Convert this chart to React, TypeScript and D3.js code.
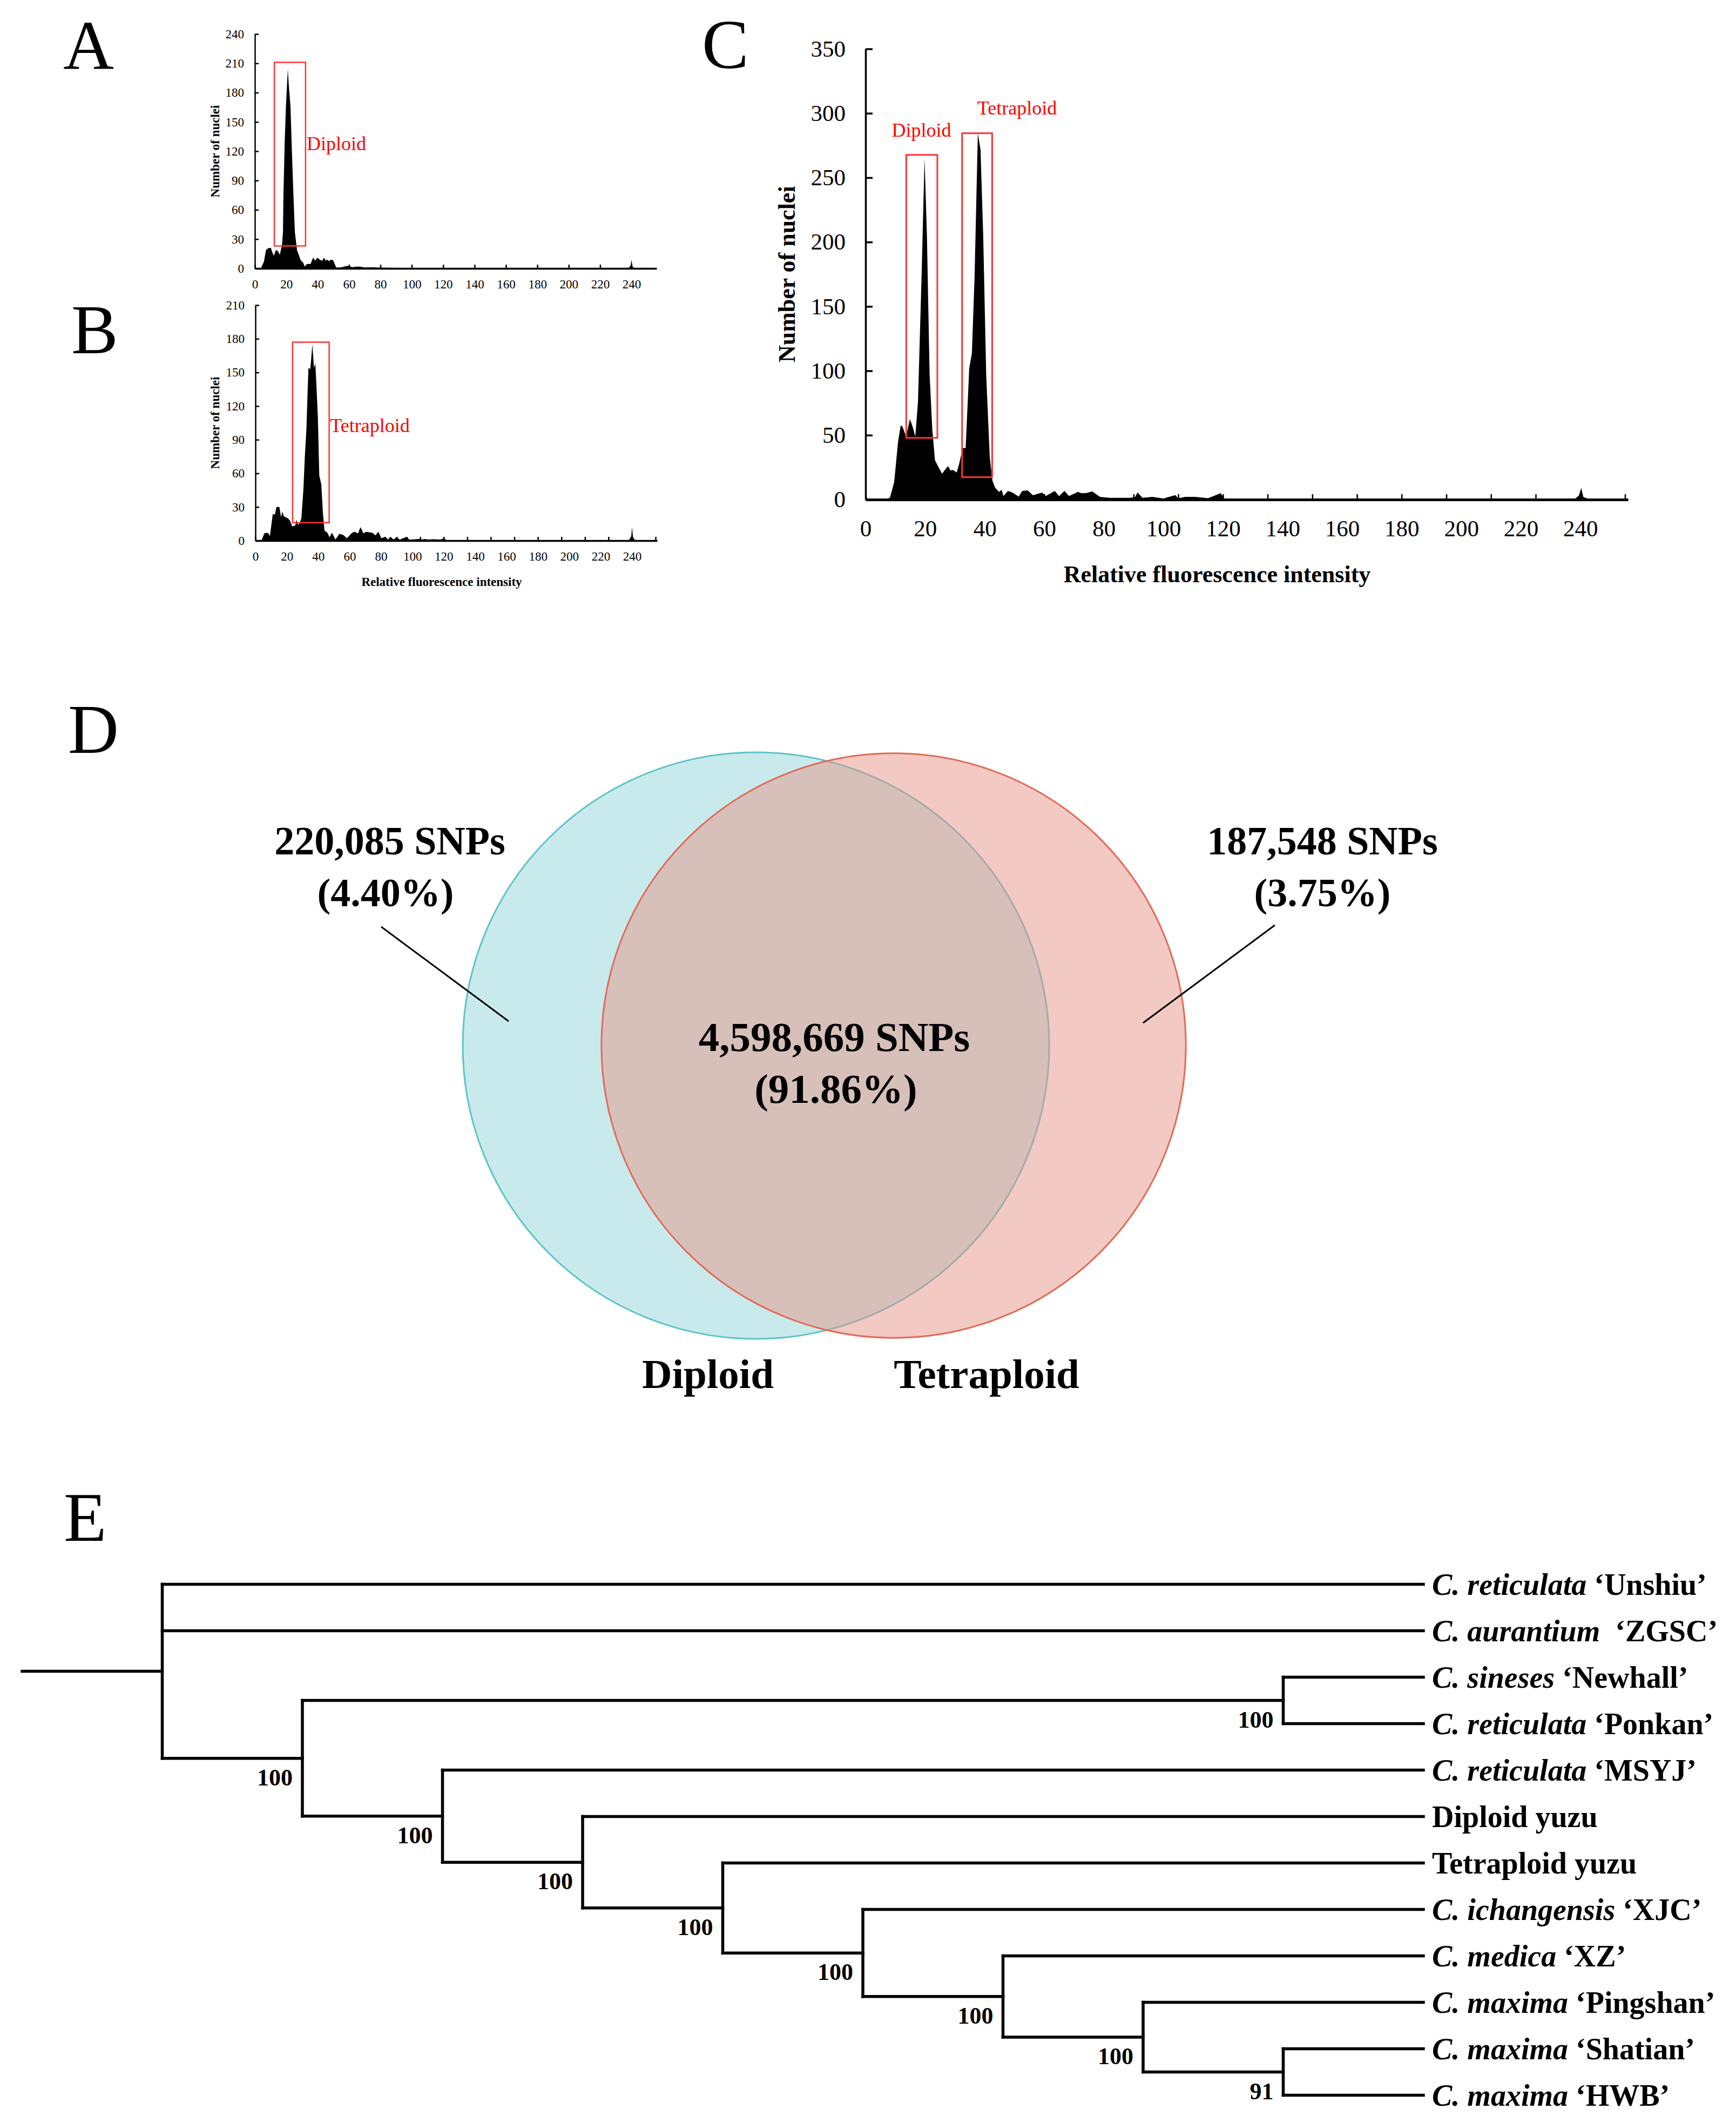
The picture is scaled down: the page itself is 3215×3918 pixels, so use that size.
import React, { useEffect, useRef } from "react";
import * as d3 from "d3";

// flow cytometry histograms: [relative fluorescence intensity, number of nuclei]
const histDiploid: [number, number][] = [
  [0, 0], [3.8, 0], [5.8, 7], [7.1, 19], [8, 20], [9, 21], [10.2, 21], [11, 17], [12.1, 13], [13.4, 19],
  [14.8, 17.5], [15.9, 14], [17.3, 24], [17.9, 37], [18.2, 74], [19, 129], [19.8, 166], [20.4, 185], [21, 204],
  [21.6, 188], [22.7, 166], [23.6, 120], [24.6, 74], [25.5, 37], [26.9, 18.5], [27.5, 16], [28.2, 13],
  [29, 9], [29.8, 7.4], [30.8, 6], [31.7, 2], [33.2, 4.6], [35.5, 4.6], [37.1, 11], [38.4, 8], [39.9, 11],
  [41.3, 9], [42.8, 7.8], [44.2, 11], [45, 8], [46.1, 9], [47.4, 7.4], [48.5, 9], [49.9, 8.3], [51.8, 1],
  [54.7, 1], [57, 2], [59.5, 2.8], [62, 1.3], [64.5, 1.8], [67, 1.8], [70, 1], [74, 1.3], [80, 0.8],
  [90, 0.5], [100, 0.4], [120, 0.3], [150, 0.2], [200, 0.2], [238, 0.2], [239.5, 3], [240, 9], [240.6, 2],
  [242, 0.2], [256, 0],
];

const histTetraploid: [number, number][] = [
  [0, 0], [3.8, 0], [5, 4], [5.7, 6.5], [7.6, 7], [8.5, 6], [9.2, 4], [10, 12], [11.1, 24], [12.4, 23],
  [13.4, 30], [15.3, 30], [16.3, 21], [17.2, 26], [18, 22], [19.1, 21], [20.6, 20], [22, 18], [23.5, 12.7],
  [25.4, 13.5], [26.2, 18.5], [27.3, 14], [28.3, 16], [29.3, 20], [30.6, 46], [31.5, 75], [32.5, 99],
  [33.2, 130], [33.8, 154], [35, 153], [36.3, 175], [37.3, 154], [38.2, 158], [39, 135], [39.8, 110],
  [40.7, 58], [42, 50], [43, 25], [44, 9], [45.9, 7], [47.2, 3], [48.8, 7], [51, 1], [53.5, 6], [56, 5],
  [58.3, 2], [61.2, 6.5], [63, 8], [65.4, 6.5], [67, 12], [68.8, 6.5], [70.7, 8], [72.3, 7.5], [74.6, 7],
  [76.5, 4.7], [78.4, 8], [80.3, 2], [82.8, 3.5], [84.5, 1], [86, 3.5], [88, 1], [89.9, 3], [92, 1],
  [96.6, 3.5], [98, 0.8], [104, 1.5], [106, 1], [108, 1.5], [110, 1], [113, 1.2], [118, 1], [120, 2],
  [122, 0.5], [150, 0.3], [238, 0.3], [239.5, 4], [240, 12], [240.6, 3], [242, 0.3], [256, 0],
];

const histMixed: [number, number][] = [
  [0, 6], [0.6, 0], [7, 0], [8.2, 1.7], [9.6, 13.4], [10.9, 44.7], [11.8, 57.6], [12.4, 56.6], [13.6, 49],
  [14.9, 62.5], [15.8, 56.6], [16.7, 49], [17.6, 76], [18.8, 173], [19.8, 265], [20.6, 205], [21.5, 97],
  [22.4, 54.5], [23.3, 30.6], [24.2, 26.4], [25.7, 20], [26.6, 23], [27.7, 26], [28.5, 22.6], [29.4, 23],
  [30.6, 21], [31.5, 28.5], [32.6, 40], [33.6, 40], [34.8, 101.7], [35.7, 113.7], [36.6, 173], [37.7, 284.5],
  [38.6, 271.6], [39.5, 205], [40.5, 97], [41.7, 32.7], [42.6, 14.7], [43.5, 9.2], [44.8, 6], [45.7, 7.6],
  [46.3, 2.7], [47.8, 6.7], [49.3, 5.5], [51.4, 2.3], [52.6, 6.7], [54.4, 7.1], [56.2, 3.4], [59.3, 5.5],
  [60.5, 2.7], [63.5, 6.7], [65, 2.7], [66.8, 6.7], [68.3, 2.7], [71.3, 6], [72.5, 4.9], [74, 5], [76.1, 6.3],
  [78.7, 2.1], [82, 1.4], [88.8, 1.4], [90.5, 2], [91.3, 5.6], [93, 1.4], [96.3, 2.1], [100, 0.8], [104, 3.5],
  [105, 1], [107.3, 2.1], [110.7, 2.1], [115, 1], [119.2, 4.9], [120.5, 0.8], [130, 0.3], [238, 0.3],
  [239.5, 3], [240.3, 9], [241, 2], [243, 0.3], [256, 0],
];

const xTickLabels = [0, 20, 40, 60, 80, 100, 120, 140, 160, 180, 200, 220, 240];
const innerTicks20 = [0, 20, 40, 60, 80, 100, 120, 140, 160, 180, 200, 220, 240];
const innerTicks15 = [0, 15, 30, 45, 60, 75, 90, 105, 120, 135, 150, 165, 180, 195, 210, 225, 240, 255];
const yTicksA = [0, 30, 60, 90, 120, 150, 180, 210, 240];
const yTicksB = [0, 30, 60, 90, 120, 150, 180, 210];
const yTicksC = [0, 50, 100, 150, 200, 250, 300, 350];

// red gates around the G1 peaks: x range, y range, label anchor (data units)
const gatesA = [{ label: "Diploid", x0: 12.4, x1: 32.3, y0: 23, y1: 211, tx: 33, ty: 121 }];
const gatesB = [{ label: "Tetraploid", x0: 23.7, x1: 47, y0: 16, y1: 177, tx: 47.6, ty: 96.8 }];
const gatesC = [
  { label: "Diploid", x0: 13.65, x1: 24.1, y0: 47.9, y1: 267.7, tx: 8.8, ty: 282 },
  { label: "Tetraploid", x0: 32.4, x1: 42.5, y0: 17.4, y1: 284.5, tx: 37.5, ty: 299 },
];

// Venn
const vennSets = ["Diploid", "Tetraploid"];
const vennOnly = ["220,085 SNPs", "187,548 SNPs"];
const vennOnlyPct = ["(4.40%)", "(3.75%)"];
const vennTotals = [220085 + 4598669, 187548 + 4598669];
const vennShared = ["4,598,669 SNPs", "(91.86%)"];

// tree
const treeNewick =
  "(Unshiu,ZGSC,((Newhall,Ponkan)100,(MSYJ,(Diploid,(Tetraploid,(XJC,(XZ,(Pingshan,(Shatian,HWB)91)100)100)100)100)100)100)100)";
const leafIds = ["Unshiu", "ZGSC", "Newhall", "Ponkan", "MSYJ", "Diploid", "Tetraploid", "XJC", "XZ", "Pingshan", "Shatian", "HWB"];
const leafSpecies = ["reticulata", "aurantium", "sineses", "reticulata", "reticulata", "", "", "ichangensis", "medica", "maxima", "maxima", "maxima"];
const leafCultivar = ["‘Unshiu’", " ‘ZGSC’", "‘Newhall’", "‘Ponkan’", "‘MSYJ’", "", "", "‘XJC’", "‘XZ’", "‘Pingshan’", "‘Shatian’", "‘HWB’"];
const leafPlain = ["", "", "", "", "", "Diploid yuzu", "Tetraploid yuzu", "", "", "", "", ""];

const SERIF = "'Liberation Serif', 'Times New Roman', serif";

type TNode = { name: string; support?: string; children?: TNode[] };

function parseNewick(s: string): TNode {
  let i = 0;
  function node(): TNode {
    const n: TNode = { name: "" };
    if (s[i] === "(") {
      n.children = [];
      i++;
      n.children.push(node());
      while (s[i] === ",") {
        i++;
        n.children.push(node());
      }
      i++; // closing paren
    }
    let lab = "";
    while (i < s.length && !",()".includes(s[i])) lab += s[i++];
    if (n.children) n.support = lab;
    else n.name = lab;
    return n;
  }
  return node();
}

function drawHist(svg: any, cfg: any) {
  const x = d3.scaleLinear().domain([0, 256]).range([cfg.left, cfg.right]);
  const y = d3.scaleLinear().domain([0, cfg.yMax]).range([cfg.bottom, cfg.top]);
  const g = svg.append("g");

  const area = d3
    .area<[number, number]>()
    .x((d) => x(d[0]))
    .y0(y(0))
    .y1((d) => y(d[1]));
  g.append("path").datum(cfg.data).attr("d", area).attr("fill", "#000");

  // little inward ticks on the x axis
  const inner = g
    .append("g")
    .attr("transform", `translate(0,${cfg.bottom})`)
    .call(d3.axisBottom(x).tickValues(cfg.inner).tickSize(-cfg.xTickLen).tickFormat(() => ""));
  inner.select(".domain").remove();
  inner.selectAll("line").attr("stroke-width", 2.5);

  const xa = g
    .append("g")
    .attr("transform", `translate(0,${cfg.bottom})`)
    .call(d3.axisBottom(x).tickValues(xTickLabels).tickSize(0).tickSizeOuter(0).tickPadding(cfg.xPad));
  xa.attr("font-family", SERIF).attr("font-size", cfg.tickFont);
  xa.select(".domain").attr("stroke-width", cfg.xAxisW);

  const ya = g
    .append("g")
    .attr("transform", `translate(${cfg.left},0)`)
    .call(d3.axisLeft(y).tickValues(cfg.yTicks).tickSizeInner(-cfg.yTickLen).tickSizeOuter(0).tickPadding(cfg.yPad));
  ya.attr("font-family", SERIF).attr("font-size", cfg.tickFont);
  ya.select(".domain").attr("stroke-width", cfg.yAxisW);
  ya.selectAll("line").attr("stroke-width", cfg.yAxisW);

  // gates
  cfg.gates.forEach((gt: any) => {
    g.append("rect")
      .attr("x", x(gt.x0))
      .attr("y", y(gt.y1))
      .attr("width", x(gt.x1) - x(gt.x0))
      .attr("height", y(gt.y0) - y(gt.y1))
      .attr("fill", "none")
      .attr("stroke", "#ff3333")
      .attr("stroke-width", cfg.gateW);
    g.append("text")
      .attr("x", x(gt.tx))
      .attr("y", y(gt.ty))
      .attr("fill", "#ff0000")
      .attr("font-family", SERIF)
      .attr("font-size", 36)
      .text(gt.label);
  });

  // y label
  g.append("text")
    .attr("transform", `translate(${cfg.yLabelX},${(cfg.top + cfg.bottom) / 2}) rotate(-90)`)
    .attr("text-anchor", "middle")
    .attr("font-family", SERIF)
    .attr("font-weight", "bold")
    .attr("font-size", cfg.labelFont)
    .text("Number of nuclei");

  if (cfg.xLabel) {
    g.append("text")
      .attr("x", cfg.xLabelX)
      .attr("y", cfg.xLabelY)
      .attr("text-anchor", "middle")
      .attr("font-family", SERIF)
      .attr("font-weight", "bold")
      .attr("font-size", cfg.labelFont)
      .text("Relative fluorescence intensity");
  }
}

function App() {
  const ref = useRef<SVGSVGElement>(null);

  useEffect(() => {
    const svg = d3.select(ref.current);
    svg.selectAll("*").remove();
    svg.append("rect").attr("width", 3215).attr("height", 3918).attr("fill", "#fff");

    const small = {
      tickFont: 23, labelFont: 23, xTickLen: 7, yTickLen: 7, xPad: 21, yPad: 20,
      xAxisW: 3.5, yAxisW: 2.5, gateW: 2.5,
    };
    drawHist(svg, {
      ...small, data: histDiploid, left: 472, right: 1216, top: 63, bottom: 497, yMax: 240,
      yTicks: yTicksA, inner: innerTicks20, gates: gatesA, yLabelX: 406,
    });
    drawHist(svg, {
      ...small, data: histTetraploid, left: 473, right: 1217, top: 565, bottom: 1001, yMax: 210,
      yTicks: yTicksB, inner: innerTicks15, gates: gatesB, yLabelX: 406,
      xLabel: true, xLabelX: 818, xLabelY: 1085,
    });
    drawHist(svg, {
      tickFont: 43, labelFont: 44, xTickLen: 10, yTickLen: 13, xPad: 37, yPad: 37,
      xAxisW: 5, yAxisW: 3.5, gateW: 3,
      data: histMixed, left: 1603, right: 3015, top: 90.5, bottom: 925, yMax: 350,
      yTicks: yTicksC, inner: innerTicks15, gates: gatesC, yLabelX: 1472,
      xLabel: true, xLabelX: 2254, xLabelY: 1078,
    });

    // Venn
    const vx = d3.scalePoint<string>().domain(vennSets).range([1400, 1655]);
    const vr = d3.scaleSqrt().domain([0, d3.max(vennTotals) as number]).range([0, 543]);
    const vcy = 1936;
    const fills = ["#93d5d9", "#e59387"];
    const strokes = ["#5ec3c9", "#e06b58"];
    const vg = svg.append("g");
    vg.selectAll("circle")
      .data(vennSets)
      .join("circle")
      .attr("cx", (d: string) => vx(d) as number)
      .attr("cy", vcy)
      .attr("r", (_d: string, i: number) => vr(vennTotals[i]))
      .attr("fill", (_d: string, i: number) => fills[i])
      .attr("fill-opacity", 0.5)
      .attr("stroke", (_d: string, i: number) => strokes[i])
      .attr("stroke-width", 3);

    const vtext = (x: number, y: number, s: string, size: number) =>
      vg.append("text")
        .attr("x", x).attr("y", y)
        .attr("text-anchor", "middle")
        .attr("font-family", SERIF)
        .attr("font-weight", "bold")
        .attr("font-size", size)
        .text(s);

    const sideX = [722, 2449];
    const leader = [
      [706, 1716, 942, 1891],
      [2361, 1713, 2117, 1894],
    ];
    vennSets.forEach((_s, i) => {
      vtext(sideX[i], 1582, vennOnly[i], 74);
      vtext(sideX[i] - (i === 0 ? 8 : 0), 1678, vennOnlyPct[i], 74);
      const l = leader[i];
      vg.append("line")
        .attr("x1", l[0]).attr("y1", l[1]).attr("x2", l[2]).attr("y2", l[3])
        .attr("stroke", "#000").attr("stroke-width", 3);
    });
    vtext(1545, 1946, vennShared[0], 77);
    vtext(1548, 2042, vennShared[1], 77);
    vtext(1311, 2570, vennSets[0], 77);
    vtext(1827, 2570, vennSets[1], 77);

    // tree
    const root = d3.hierarchy<TNode>(parseNewick(treeNewick));
    const xT = d3.scaleLinear().domain([root.height + 1, 0]).range([41, 2636]);
    const yT = d3.scalePoint<string>().domain(leafIds).range([2933.5, 3879.5]);
    const pos = new Map<any, { x: number; y: number }>();
    root.eachAfter((n) => {
      const kids = n.children;
      const py = kids
        ? (pos.get(kids[0])!.y + pos.get(kids[kids.length - 1])!.y) / 2
        : (yT(n.data.name) as number);
      pos.set(n, { x: xT(n.height), y: py });
    });

    const tg = svg.append("g")
      .attr("stroke", "#000")
      .attr("stroke-width", 5.5)
      .attr("stroke-linecap", "square")
      .attr("fill", "none");
    const rp = pos.get(root)!;
    tg.append("line").attr("x1", xT(root.height + 1)).attr("x2", rp.x).attr("y1", rp.y).attr("y2", rp.y);
    root.descendants().forEach((n) => {
      const p = pos.get(n)!;
      if (n.parent) {
        const pp = pos.get(n.parent)!;
        tg.append("line").attr("x1", pp.x).attr("x2", p.x).attr("y1", p.y).attr("y2", p.y);
      }
      if (n.children) {
        const a = pos.get(n.children[0])!;
        const b = pos.get(n.children[n.children.length - 1])!;
        tg.append("line").attr("x1", p.x).attr("x2", p.x).attr("y1", a.y).attr("y2", b.y);
        if (n.data.support) {
          svg.append("text")
            .attr("x", p.x - 18)
            .attr("y", p.y + 50)
            .attr("text-anchor", "end")
            .attr("font-family", SERIF)
            .attr("font-weight", "bold")
            .attr("font-size", 44)
            .text(n.data.support);
        }
      }
    });

    leafIds.forEach((id, i) => {
      const t = svg.append("text")
        .attr("x", xT(0) + 16)
        .attr("y", (yT(id) as number) + 19)
        .attr("font-family", SERIF)
        .attr("font-weight", "bold")
        .attr("font-size", 56)
        .style("white-space", "pre");
      if (leafPlain[i]) {
        t.text(leafPlain[i]);
      } else {
        t.append("tspan").attr("font-style", "italic").text("C. " + leafSpecies[i]);
        t.append("tspan").text(" " + leafCultivar[i]);
      }
    });

    // panel letters
    const letters = ["A", "B", "C", "D", "E"];
    const letterPos = [[117, 128], [132, 654], [1300, 126], [126, 1394], [118, 2853]];
    letters.forEach((l, i) => {
      svg.append("text")
        .attr("x", letterPos[i][0])
        .attr("y", letterPos[i][1])
        .attr("font-family", SERIF)
        .attr("font-size", 130)
        .text(l);
    });
  }, []);

  return (
    <svg
      ref={ref}
      width={3215}
      height={3918}
      style={{ position: "absolute", left: 0, top: 0, display: "block" }}
    />
  );
}

export default App;
